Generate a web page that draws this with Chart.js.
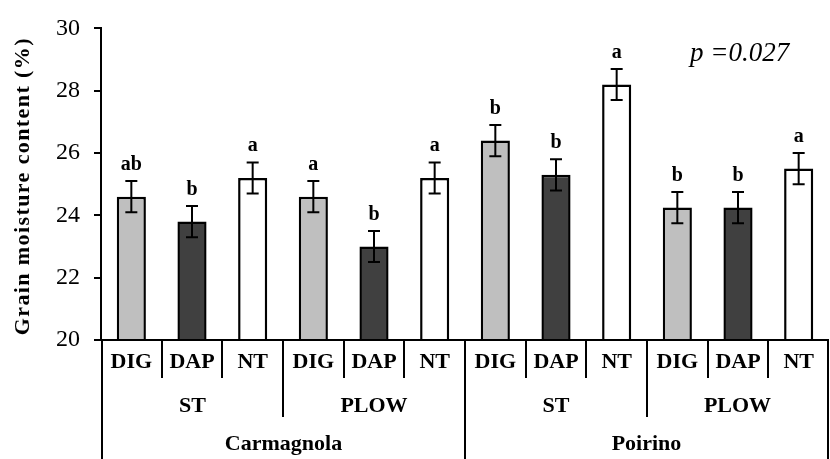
<!DOCTYPE html>
<html>
<head>
<meta charset="utf-8">
<script src="https://cdn.jsdelivr.net/npm/chart.js@4.4.1/dist/chart.umd.min.js"></script>
<style>
  html, body { margin: 0; padding: 0; background: #fff; }
  #wrap { width: 830px; height: 459px; }
</style>
</head>
<body>
<div id="wrap"><canvas id="moistureChart"></canvas></div>
<script>
// ---- data ----
const sites = ["Carmagnola", "Poirino"];
const tillage = ["ST", "PLOW"];
const methods = ["DIG", "DAP", "NT"];
const moisture = [24.6, 23.8, 25.2, 24.6, 23.0, 25.2, 26.4, 25.3, 28.2, 24.25, 24.25, 25.5];
const stdErr = [0.5, 0.5, 0.5, 0.5, 0.5, 0.5, 0.5, 0.5, 0.5, 0.5, 0.5, 0.5];
const letters = ["ab", "b", "a", "a", "b", "a", "b", "b", "a", "b", "b", "a"];
const yTicks = [20, 22, 24, 26, 28, 30];
const pText = "p =0.027";

const methodColors = { DIG: "#bfbfbf", DAP: "#404040", NT: "#ffffff" };
const SERIF = "'Liberation Serif', 'Times New Roman', serif";

// build flat labels for the 12 bars
const labels = [];
sites.forEach(() => tillage.forEach(() => methods.forEach((m) => labels.push(m))));

// ---- plugin: error bars, letters, multi-level axis, titles ----
const extrasPlugin = {
  id: "extras",
  afterDatasetsDraw(chart) {
    const ctx = chart.ctx;
    const y = chart.scales.y;
    const x = chart.scales.x;
    const area = chart.chartArea;
    const meta = chart.getDatasetMeta(0);

    ctx.save();
    // error bars
    ctx.strokeStyle = "#000";
    ctx.lineWidth = 2;
    meta.data.forEach((bar, i) => {
      const top = y.getPixelForValue(moisture[i] + stdErr[i]);
      const bot = y.getPixelForValue(moisture[i] - stdErr[i]);
      ctx.beginPath();
      ctx.moveTo(bar.x, top);
      ctx.lineTo(bar.x, bot);
      ctx.moveTo(bar.x - 6, top);
      ctx.lineTo(bar.x + 6, top);
      ctx.moveTo(bar.x - 6, bot);
      ctx.lineTo(bar.x + 6, bot);
      ctx.stroke();

      // significance letters
      ctx.fillStyle = "#000";
      ctx.font = "bold 20px " + SERIF;
      ctx.textAlign = "center";
      ctx.textBaseline = "alphabetic";
      ctx.fillText(letters[i], bar.x, top - 11);
    });

    // x axis line
    ctx.beginPath();
    ctx.moveTo(area.left - 7, area.bottom);
    ctx.lineTo(area.right, area.bottom);
    ctx.stroke();

    // hierarchical category axis
    const n = labels.length;
    const edge = (i) => {
      if (i === 0) return area.left + 1;
      if (i === n) return area.right - 1;
      return (x.getPixelForValue(i - 1) + x.getPixelForValue(i)) / 2;
    };
    const perSite = tillage.length * methods.length;
    for (let i = 0; i <= n; i++) {
      let len = 38;
      if (i % methods.length === 0) len = 77;
      if (i % perSite === 0) len = 119;
      const ex = Math.round(edge(i));
      ctx.beginPath();
      ctx.moveTo(ex, area.bottom);
      ctx.lineTo(ex, area.bottom + len);
      ctx.stroke();
    }

    ctx.fillStyle = "#000";
    ctx.textAlign = "center";
    ctx.textBaseline = "middle";
    ctx.font = "bold 22px " + SERIF;
    labels.forEach((lab, i) => {
      ctx.fillText(lab, x.getPixelForValue(i), area.bottom + 22);
    });
    let k = 0;
    sites.forEach((site, s) => {
      tillage.forEach((t) => {
        const mid = (edge(k * methods.length) + edge((k + 1) * methods.length)) / 2;
        ctx.fillText(t, mid, area.bottom + 66);
        k++;
      });
      const mid = (edge(s * perSite) + edge((s + 1) * perSite)) / 2;
      ctx.fillText(site, mid, area.bottom + 104);
    });

    // y title
    ctx.save();
    ctx.translate(23, (area.top + area.bottom) / 2 + 2);
    ctx.rotate(-Math.PI / 2);
    ctx.font = "bold 22px " + SERIF;
    ctx.letterSpacing = "1.4px";
    ctx.fillText("Grain moisture content (%)", 0, 0);
    ctx.restore();

    // p value
    ctx.font = "italic 27px " + SERIF;
    ctx.textAlign = "left";
    ctx.textBaseline = "alphabetic";
    ctx.fillText(pText, 690, 61);
    ctx.restore();
  },
};

new Chart(document.getElementById("moistureChart"), {
  type: "bar",
  data: {
    labels: labels,
    datasets: [
      {
        data: moisture,
        backgroundColor: labels.map((m) => methodColors[m]),
        borderColor: "#000",
        borderWidth: 2.5,
        borderSkipped: "start",
        barPercentage: 0.48,
        categoryPercentage: 1,
      },
    ],
  },
  options: {
    responsive: true,
    maintainAspectRatio: false,
    animation: false,
    layout: { padding: { top: 20, right: 1, bottom: 119, left: 0 } },
    plugins: {
      legend: { display: false },
      tooltip: { enabled: false },
    },
    scales: {
      x: { display: false },
      y: {
        min: yTicks[0],
        max: yTicks[yTicks.length - 1],
        afterBuildTicks: (scale) => {
          scale.ticks = yTicks.map((v) => ({ value: v }));
        },
        afterFit: (scale) => {
          scale.width = 101;
        },
        border: { display: true, color: "#000", width: 2 },
        grid: {
          display: true,
          drawOnChartArea: false,
          drawTicks: true,
          tickLength: 7,
          color: "#000",
          lineWidth: 2,
        },
        ticks: {
          color: "#000",
          padding: 14,
          font: { family: SERIF, size: 24 },
        },
      },
    },
  },
  plugins: [extrasPlugin],
});
</script>
</body>
</html>
